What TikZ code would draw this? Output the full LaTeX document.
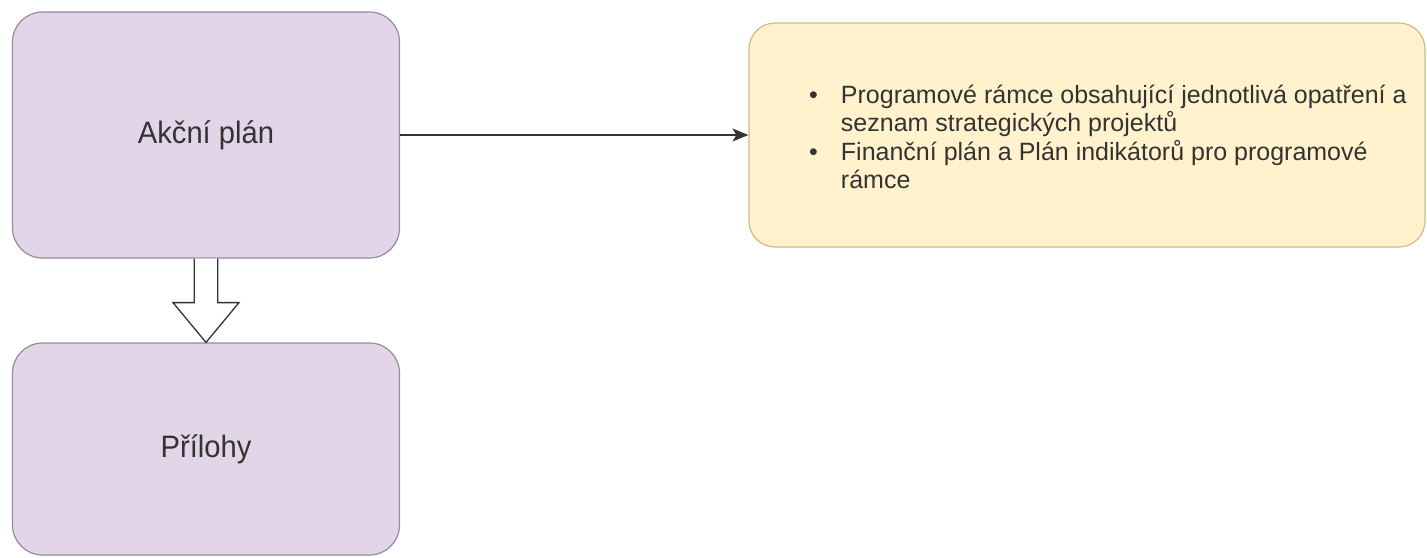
\documentclass[tikz,border=0pt]{standalone}
\usepackage{fontspec}
\setmainfont{Liberation Sans}
\newfontfamily\labelfont[FakeStretch=0.94]{Liberation Sans}
\usetikzlibrary{calc,arrows.meta}
\definecolor{pfill}{HTML}{E1D5E7}
\definecolor{pline}{HTML}{978A9D}
\definecolor{yfill}{HTML}{FFF2CC}
\definecolor{yline}{HTML}{CDBC86}
\definecolor{txt}{HTML}{333333}
\tikzset{
  pbox/.style={draw=pline, fill=pfill, line width=1.2pt, rounded corners=30pt,
    text=txt, font=\labelfont\fontsize{31}{34}\selectfont, inner sep=0pt},
  ybox/.style={draw=yline, fill=yfill, line width=1.2pt, rounded corners=26pt, inner sep=0pt},
  conn/.style={draw=txt, line width=1.4pt, -{Stealth[length=16pt,width=13pt,inset=4pt]}},
  blockarrow/.style={draw=txt, fill=white, line width=1.3pt, line join=miter},
  listtext/.style={text=txt, inner sep=0pt, anchor=north west, font=\fontsize{25}{28}\selectfont}
}
\begin{document}
\begin{tikzpicture}[x=1pt,y=-1pt]
\useasboundingbox[fill=white] (0,0) rectangle (1427,557);
\node[pbox, minimum width=387pt, minimum height=246pt] (akc) at (206,135) {Akční plán};
\node[pbox, minimum width=387pt, minimum height=212pt] (pril) at (206,449) {Přílohy};
\node[ybox, minimum width=676pt, minimum height=224pt] (info) at (1087,135) {};
\node[listtext] (list) at (809,83.5) {%
\begin{tabular}[t]{@{}l@{\hspace{23pt}}l@{}}
•& Programové rámce obsahující jednotlivá opatření a\\
 & seznam strategických projektů\\
•& Finanční plán a Plán indikátorů pro programové\\
 & rámce
\end{tabular}};
\draw[conn] (akc.east) -- (info.west);
\draw[blockarrow] ($(akc.south)+(-11.7,0)$) -- ($(akc.south)+(-11.7,44)$) -- ($(akc.south)+(-33,44)$)
  -- (pril.north) -- ($(akc.south)+(33,44)$) -- ($(akc.south)+(11.7,44)$) -- ($(akc.south)+(11.7,0)$);
\end{tikzpicture}
\end{document}
